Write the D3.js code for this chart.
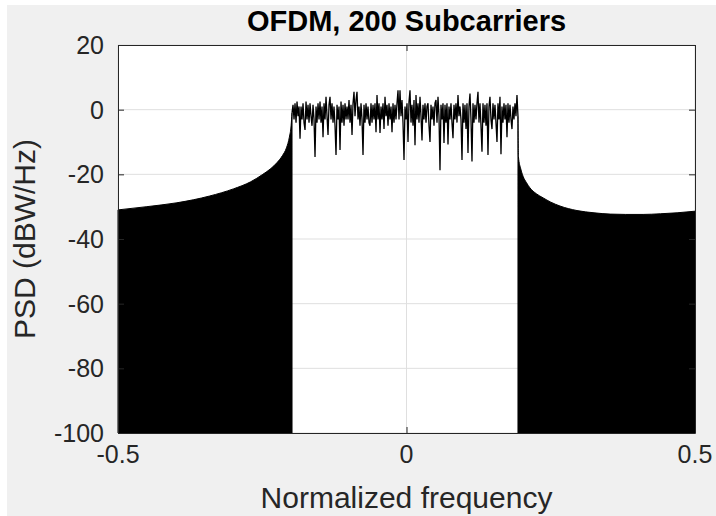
<!DOCTYPE html>
<html>
<head>
<meta charset="utf-8">
<script src="https://cdn.jsdelivr.net/npm/d3@7"></script>
<style>
    body { margin: 0; background: #ffffff; }
    svg { display: block; font-family: "Liberation Sans", Arial, sans-serif; }
</style>
</head>
<body>
<svg id="chart"></svg>
<script>
// sidelobe envelope below the band (normalized frequency, dBW/Hz)
const leftFreq = [-0.5, -0.45, -0.398, -0.341, -0.3, -0.27, -0.249, -0.235, -0.224, -0.215, -0.208, -0.203, -0.2, -0.1984];
const leftPsd = [-31.0, -30.0, -28.8, -26.7, -24.5, -22.3, -20.0, -18.2, -16.3, -14.2, -11.8, -8.5, -5, -1];

// sidelobe envelope above the band
const rightFreq = [0.1932, 0.194, 0.198, 0.202, 0.208, 0.214, 0.225, 0.237, 0.25, 0.266, 0.2955, 0.325, 0.353, 0.38, 0.41, 0.44, 0.469, 0.5];
const rightPsd = [-2, -14.6, -18.3, -20.6, -22.6, -24.2, -26.0, -27.3, -28.6, -29.8, -31.2, -31.9, -32.3, -32.4, -32.4, -32.2, -31.9, -31.4];

// in-band PSD, evenly spaced from bandLo to bandHi
const bandLo = -0.1984;
const bandHi = 0.1932;
const bandPsd = [
    -1, 1.5, -3, 2, -4, 2.5, -2, 1, -9, 1,
    -3, 2, -4, -6.3, 2.5, -3, 1.5, -4, 2, -2,
    -5, 1.5, -3, -14.6, 1, -4, 2, -3, 2.5, -4,
    1, -8.5, 2, -3, 4, -2, -7.8, 1.5, 4, -3,
    2, -4, 1, -5, -14, 1.5, -3, 1, -12.5, 2.5,
    -4, 1.5, -5, 2, -3, 1, -3, 3, -4, 1.5,
    -7.8, 2, 5.5, -2, 3, 5.5, -3, 1, -5, 2,
    -3, -14, 1.5, -4, 2, -3, 1, -4, -5, 2,
    -4, 1.5, -3, 2, -7, 4.5, -3, 2, -7.2, 1,
    -3, 2, -6, 4, -2, 1.5, -5, 2, -3, 1,
    -7, 2, -4, 1.5, -3, 2, 6, -3, 6, -2,
    3, -4, -15.6, 1, -3, 2, -10, 2.5, 6, -4,
    1.5, -5, 3, -11, 4.5, -3, 2, -4, 4, -2,
    -9.5, 1.5, -3, 2, -4, 1, 2, -5, -10, 1.5,
    -3, 1, -5, 2, 3, -4, 4, -2, -18.7, 1.5,
    -3, 2, -10.3, 1.5, -4, 2, -10.8, 1, -3, 2,
    -4, -8.8, 1.5, -3, 2, -4, 4.5, -2, 1, -3,
    -15.6, 2, -4, 1.5, -6, 2, -13.4, 1, 5, -3,
    -16, 2, -4, 1.5, -3, 2, 5.5, -4, 2, -5,
    -13, 2, -4, 1.5, -5, 2, -14, 1, 4, -3,
    -6, 2, -3, 1.5, -4, -10, 2, -3, 4, -13.8,
    1, -4, 2, -3, 1.5, -8.5, 2, -4, 1.5, -3,
    -6, 1, -3, 2, -2, 4.5, -2
];

const yTicks = [20, 0, -20, -40, -60, -80, -100];
const xTicks = [-0.5, 0, 0.5];

const width = 716;
const height = 516;
const margin = { top: 45, right: 21, bottom: 83, left: 118 };
const axisColor = "#262626";
const gridColor = "#dfdfdf";

const svg = d3.select("#chart")
    .attr("width", width)
    .attr("height", height);

svg.append("rect")
    .attr("x", 7)
    .attr("y", 5)
    .attr("width", width - 7)
    .attr("height", height - 5)
    .attr("fill", "#f0f0f0");

const xScale = d3.scaleLinear()
    .domain([-0.5, 0.5])
    .range([margin.left, width - margin.right]);

const yScale = d3.scaleLinear()
    .domain([-100, 20])
    .range([height - margin.bottom, margin.top]);

const plotW = width - margin.left - margin.right;
const plotH = height - margin.top - margin.bottom;

svg.append("rect")
    .attr("x", margin.left)
    .attr("y", margin.top)
    .attr("width", plotW)
    .attr("height", plotH)
    .attr("fill", "#ffffff");

// grid
svg.append("g")
    .selectAll("line")
    .data(yTicks)
    .enter()
    .append("line")
    .attr("x1", margin.left)
    .attr("x2", width - margin.right)
    .attr("y1", d => yScale(d))
    .attr("y2", d => yScale(d))
    .attr("stroke", gridColor);

svg.append("g")
    .selectAll("line")
    .data(xTicks)
    .enter()
    .append("line")
    .attr("x1", d => xScale(d))
    .attr("x2", d => xScale(d))
    .attr("y1", margin.top)
    .attr("y2", height - margin.bottom)
    .attr("stroke", gridColor);

// out-of-band region: nulls go far below -100, so it reads as solid fill
const area = d3.area()
    .x(d => xScale(d[0]))
    .y0(yScale(-100))
    .y1(d => yScale(d[1]))
    .curve(d3.curveMonotoneX);

const leftData = leftFreq.map((f, i) => [f, leftPsd[i]]);
const rightData = rightFreq.map((f, i) => [f, rightPsd[i]]);

svg.append("path")
    .datum(leftData)
    .attr("d", area)
    .attr("fill", "#000")
    .attr("stroke", "#000")
    .attr("stroke-width", 1);

svg.append("path")
    .datum(rightData)
    .attr("d", area)
    .attr("fill", "#000")
    .attr("stroke", "#000")
    .attr("stroke-width", 1);

const step = (bandHi - bandLo) / (bandPsd.length - 1);
const bandData = bandPsd.map((v, i) => [bandLo + i * step, v]);

svg.append("path")
    .datum(bandData)
    .attr("d", d3.line().x(d => xScale(d[0])).y(d => yScale(d[1])))
    .attr("fill", "none")
    .attr("stroke", "#000")
    .attr("stroke-width", 1.3);

// axes box with inward ticks
const tickLen = 6;
const xAxisB = d3.axisBottom(xScale).tickValues(xTicks).tickSizeInner(-tickLen).tickSizeOuter(0).tickFormat("");
const xAxisT = d3.axisTop(xScale).tickValues(xTicks).tickSizeInner(-tickLen).tickSizeOuter(0).tickFormat("");
const yAxisL = d3.axisLeft(yScale).tickValues(yTicks).tickSizeInner(-tickLen).tickSizeOuter(0).tickFormat("");
const yAxisR = d3.axisRight(yScale).tickValues(yTicks).tickSizeInner(-tickLen).tickSizeOuter(0).tickFormat("");

svg.append("g").attr("transform", "translate(0," + (height - margin.bottom) + ")").call(xAxisB);
svg.append("g").attr("transform", "translate(0," + margin.top + ")").call(xAxisT);
svg.append("g").attr("transform", "translate(" + margin.left + ",0)").call(yAxisL);
svg.append("g").attr("transform", "translate(" + (width - margin.right) + ",0)").call(yAxisR);

svg.selectAll(".domain, .tick line").attr("stroke", axisColor);

// tick labels
svg.append("g")
    .selectAll("text")
    .data(yTicks)
    .enter()
    .append("text")
    .attr("x", margin.left - 14)
    .attr("y", d => yScale(d))
    .attr("dy", "0.36em")
    .attr("text-anchor", "end")
    .attr("font-size", 25)
    .attr("fill", axisColor)
    .text(d => d);

svg.append("g")
    .selectAll("text")
    .data(xTicks)
    .enter()
    .append("text")
    .attr("x", d => xScale(d))
    .attr("y", height - margin.bottom + 30)
    .attr("text-anchor", "middle")
    .attr("font-size", 25)
    .attr("fill", axisColor)
    .text(d => d);

svg.append("text")
    .attr("x", xScale(0))
    .attr("y", 508)
    .attr("text-anchor", "middle")
    .attr("font-size", 30)
    .attr("fill", axisColor)
    .text("Normalized frequency");

svg.append("text")
    .attr("transform", "translate(35," + (margin.top + plotH / 2) + ") rotate(-90)")
    .attr("text-anchor", "middle")
    .attr("font-size", 30)
    .attr("fill", axisColor)
    .text("PSD (dBW/Hz)");

svg.append("text")
    .attr("x", xScale(0))
    .attr("y", 31)
    .attr("text-anchor", "middle")
    .attr("font-size", 29)
    .attr("font-weight", "bold")
    .attr("fill", "#000")
    .text("OFDM, 200 Subcarriers");
</script>
</body>
</html>
